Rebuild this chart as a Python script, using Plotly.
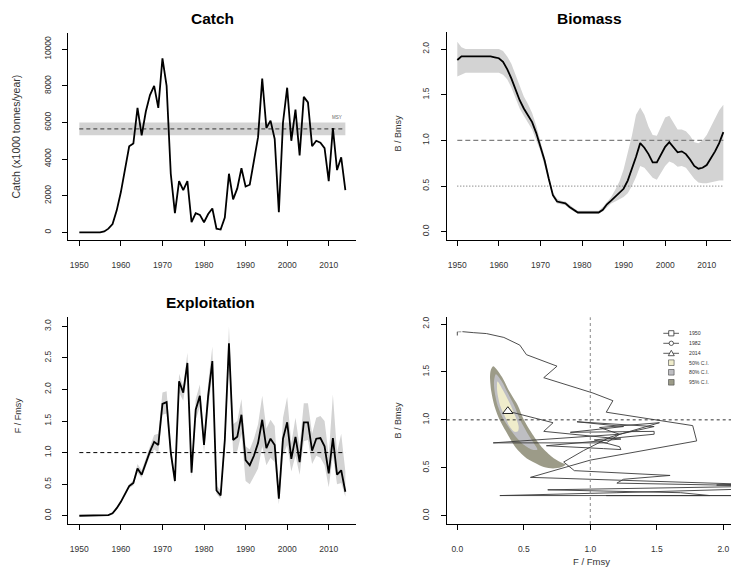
import plotly.graph_objects as go

W, H = 731, 568
FONT = "Liberation Sans, Arial, sans-serif"

years = list(range(1950, 2015))

catch = [0, 0, 0, 0, 0, 0, 50, 200, 450, 1200,
         2200, 3500, 4700, 4850, 6800, 5300, 6600, 7500, 8000, 6800,
         9500, 8000, 3200, 1050, 2800, 2300, 2800, 550, 1050, 950,
         550, 1000, 1300, 200, 150, 800, 3200, 1800, 2400, 3500,
         2500, 2600, 3800, 5200, 8400, 5700, 6100, 5100, 1100, 6000,
         7900, 5000, 6700, 4200, 7400, 7100, 4700, 5000, 4900, 4600,
         2800, 5700, 3400, 4100, 2300]
msy_years = [1950, 2014]
msy = [5650, 5650]
msy_lo = [5300, 5300]
msy_hi = [6000, 6000]

bbmsy = [1.88, 1.92, 1.92, 1.92, 1.92, 1.92, 1.92, 1.92, 1.92, 1.91,
         1.90, 1.86, 1.78, 1.68, 1.56, 1.44, 1.35, 1.28, 1.20, 1.08,
         0.94, 0.78, 0.58, 0.40, 0.33, 0.32, 0.31, 0.27, 0.24, 0.21,
         0.21, 0.21, 0.21, 0.21, 0.21, 0.24, 0.30, 0.34, 0.38, 0.42,
         0.47, 0.56, 0.68, 0.82, 0.97, 0.92, 0.85, 0.76, 0.76, 0.85,
         0.93, 0.98, 0.93, 0.87, 0.88, 0.85, 0.79, 0.72, 0.69, 0.70,
         0.73, 0.80, 0.88, 0.97, 1.09]
bbmsy_hi = [2.08, 2.02, 2.00, 2.00, 2.00, 2.00, 2.00, 2.00, 2.00, 2.00,
            2.00, 1.98, 1.92, 1.84, 1.72, 1.60, 1.48, 1.40, 1.30, 1.16,
            1.00, 0.82, 0.62, 0.43, 0.36, 0.34, 0.33, 0.29, 0.26, 0.23,
            0.23, 0.23, 0.23, 0.23, 0.23, 0.27, 0.33, 0.38, 0.46, 0.55,
            0.68, 0.85, 1.05, 1.28, 1.36, 1.28, 1.15, 1.06, 1.05, 1.15,
            1.25, 1.27, 1.20, 1.12, 1.12, 1.10, 1.05, 0.98, 0.97, 1.00,
            1.06, 1.15, 1.25, 1.33, 1.39]
bbmsy_lo = [1.70, 1.72, 1.74, 1.74, 1.74, 1.74, 1.74, 1.74, 1.74, 1.74,
            1.74, 1.72, 1.67, 1.58, 1.46, 1.35, 1.27, 1.20, 1.12, 1.00,
            0.88, 0.72, 0.54, 0.38, 0.31, 0.30, 0.29, 0.25, 0.22, 0.20,
            0.20, 0.20, 0.20, 0.20, 0.20, 0.22, 0.27, 0.31, 0.33, 0.36,
            0.38, 0.42, 0.50, 0.60, 0.72, 0.70, 0.65, 0.59, 0.57, 0.64,
            0.72, 0.77, 0.75, 0.71, 0.72, 0.70, 0.64, 0.58, 0.54, 0.53,
            0.53, 0.54, 0.55, 0.56, 0.56]

ffmsy = [0, 0, 0, 0, 0, 0, 0, 0.01, 0.04, 0.12,
         0.22, 0.35, 0.47, 0.52, 0.75, 0.65, 0.85, 1.02, 1.17, 1.12,
         1.77, 1.80, 1.00, 0.55, 2.13, 1.95, 2.42, 0.68, 1.68, 1.90,
         1.12, 1.90, 2.45, 0.40, 0.32, 1.20, 2.73, 1.20, 1.25, 1.60,
         0.88, 0.80, 0.95, 1.15, 1.52, 1.07, 1.22, 1.12, 0.27, 1.22,
         1.48, 0.90, 1.25, 0.85, 1.48, 1.48, 1.03, 1.22, 1.23, 1.10,
         0.67, 1.23, 0.65, 0.72, 0.38]
ffmsy_hi = [0.01, 0.01, 0.01, 0.01, 0.01, 0.01, 0.01, 0.02, 0.06, 0.14,
            0.25, 0.38, 0.50, 0.56, 0.82, 0.72, 0.92, 1.10, 1.28, 1.30,
            1.95, 1.97, 1.10, 0.62, 2.25, 2.05, 2.58, 0.78, 1.85, 2.08,
            1.25, 2.10, 2.68, 0.48, 0.40, 1.35, 3.00, 1.45, 1.50, 1.85,
            1.10, 1.05, 1.22, 1.45, 1.90, 1.38, 1.52, 1.42, 0.40, 1.55,
            1.88, 1.15, 1.55, 1.10, 1.78, 1.78, 1.30, 1.55, 1.58, 1.50,
            0.95, 1.92, 1.00, 1.30, 0.70]
ffmsy_lo = [0, 0, 0, 0, 0, 0, 0, 0.005, 0.03, 0.10,
            0.20, 0.32, 0.44, 0.48, 0.68, 0.60, 0.78, 0.95, 1.05, 1.00,
            1.60, 1.62, 0.90, 0.50, 1.95, 1.82, 2.25, 0.60, 1.52, 1.72,
            1.00, 1.70, 2.22, 0.35, 0.27, 1.05, 2.45, 1.00, 1.02, 1.30,
            0.55, 0.50, 0.62, 0.75, 1.10, 0.80, 0.92, 0.85, 0.18, 0.95,
            1.12, 0.70, 0.95, 0.65, 1.18, 1.20, 0.82, 0.95, 0.92, 0.80,
            0.45, 0.95, 0.50, 0.52, 0.30]

# final-year confidence regions (F/Fmsy, B/Bmsy)
ci95_f = [0.270, 0.335, 0.390, 0.455, 0.500, 0.565, 0.645, 0.725, 0.790, 0.815,
          0.780, 0.720, 0.650, 0.585, 0.520, 0.445, 0.378, 0.318, 0.278, 0.255,
          0.246, 0.252, 0.270]
ci95_b = [1.560, 1.450, 1.300, 1.150, 1.000, 0.850, 0.700, 0.600, 0.550, 0.535,
          0.505, 0.493, 0.508, 0.550, 0.600, 0.700, 0.850, 1.000, 1.150, 1.300,
          1.450, 1.520, 1.560]
ci80_f = [0.290, 0.335, 0.372, 0.428, 0.472, 0.532, 0.578, 0.602, 0.560, 0.490,
          0.425, 0.350, 0.303, 0.280, 0.276, 0.290]
ci80_b = [1.475, 1.400, 1.300, 1.150, 1.000, 0.850, 0.750, 0.688, 0.690, 0.750,
          0.850, 1.000, 1.150, 1.300, 1.400, 1.475]
ci50_f = [0.302, 0.347, 0.402, 0.447, 0.462, 0.455, 0.430, 0.385, 0.370, 0.322, 0.300, 0.302]
ci50_b = [1.400, 1.300, 1.150, 1.000, 0.920, 0.880, 0.875, 0.950, 1.000, 1.150, 1.300, 1.400]

legend_labels = ["1950", "1982", "2014", "50% C.I.", "80% C.I.", "95% C.I."]
ci_colors = ["#EFECCB", "#BEBEC2", "#9C9B88"]
band = "#D3D3D3"

yr_ticks = [1950, 1960, 1970, 1980, 1990, 2000, 2010]
catch_ticks = [0, 2000, 4000, 6000, 8000, 10000]
ratio_ticks = [0, 0.5, 1.0, 1.5, 2.0]
f_ticks = [0, 0.5, 1.0, 1.5, 2.0, 2.5, 3.0]

# panel frames in pixels: (left, right, top, bottom) and axis ranges
frames = {
    "1": (68.3, 356.0, 33.0, 240.0),
    "2": (446.7, 731.0, 32.3, 240.0),
    "3": (68.3, 356.0, 317.3, 524.0),
    "4": (446.7, 731.0, 317.3, 524.0),
}
ranges = {
    "1": ([1947.35, 2016.56], [-421, 10891]),
    "2": ([1947.45, 2015.84], [-0.091, 2.184]),
    "3": ([1947.35, 2016.56], [-0.131, 3.143]),
    "4": ([-0.0797, 2.058], [-0.0866, 2.07]),
}


def px(x):
    return x / W


def py(y):
    return 1 - y / H


tickfont = dict(family=FONT, size=8.5, color="#333333")


def xax(key, tv, fmt, anchor):
    l, r, t, b = frames[key]
    return dict(domain=[px(l), min(px(r), 1.0)], range=ranges[key][0], tickmode="array",
                tickvals=tv, tickformat=fmt, anchor=anchor, showgrid=False, zeroline=False,
                showline=True, linecolor="#000000", linewidth=1, ticks="outside", ticklen=5,
                tickwidth=1, tickcolor="#000000", tickfont=tickfont, ticklabelstandoff=12)


def yax(key, tv, fmt, anchor):
    l, r, t, b = frames[key]
    return dict(domain=[py(b), py(t)], range=ranges[key][1], tickmode="array", tickvals=tv,
                tickformat=fmt, anchor=anchor, showgrid=False, zeroline=False, showline=True,
                linecolor="#000000", linewidth=1, ticks="outside", ticklen=5, tickwidth=1,
                tickcolor="#000000", tickfont=tickfont, tickangle=-90, ticklabelstandoff=8)


fig = go.Figure()

# ---- Catch ----
fig.add_trace(go.Scatter(x=msy_years, y=msy_hi, mode="lines", line=dict(width=0),
                         xaxis="x", yaxis="y", showlegend=False, hoverinfo="skip"))
fig.add_trace(go.Scatter(x=msy_years, y=msy_lo, mode="lines", line=dict(width=0),
                         fill="tonexty", fillcolor=band, xaxis="x", yaxis="y",
                         showlegend=False, hoverinfo="skip"))
fig.add_trace(go.Scatter(x=msy_years, y=msy, mode="lines",
                         line=dict(color="#555555", width=1.2, dash="4px,3px"),
                         xaxis="x", yaxis="y", showlegend=False))
fig.add_trace(go.Scatter(x=years, y=catch, mode="lines", line=dict(color="black", width=1.8),
                         xaxis="x", yaxis="y", showlegend=False))

# ---- Biomass ----
fig.add_trace(go.Scatter(x=years, y=bbmsy_hi, mode="lines", line=dict(width=0),
                         xaxis="x2", yaxis="y2", showlegend=False, hoverinfo="skip"))
fig.add_trace(go.Scatter(x=years, y=bbmsy_lo, mode="lines", line=dict(width=0),
                         fill="tonexty", fillcolor=band, xaxis="x2", yaxis="y2",
                         showlegend=False, hoverinfo="skip"))
fig.add_trace(go.Scatter(x=msy_years, y=[1, 1], mode="lines",
                         line=dict(color="#808080", width=1.4, dash="5px,3px"),
                         xaxis="x2", yaxis="y2", showlegend=False))
fig.add_trace(go.Scatter(x=msy_years, y=[0.5, 0.5], mode="lines",
                         line=dict(color="#808080", width=1.2, dash="1px,2px"),
                         xaxis="x2", yaxis="y2", showlegend=False))
fig.add_trace(go.Scatter(x=years, y=bbmsy, mode="lines", line=dict(color="black", width=1.8),
                         xaxis="x2", yaxis="y2", showlegend=False))

# ---- Exploitation ----
fig.add_trace(go.Scatter(x=years, y=ffmsy_hi, mode="lines", line=dict(width=0),
                         xaxis="x3", yaxis="y3", showlegend=False, hoverinfo="skip"))
fig.add_trace(go.Scatter(x=years, y=ffmsy_lo, mode="lines", line=dict(width=0),
                         fill="tonexty", fillcolor=band, xaxis="x3", yaxis="y3",
                         showlegend=False, hoverinfo="skip"))
fig.add_trace(go.Scatter(x=msy_years, y=[1, 1], mode="lines",
                         line=dict(color="black", width=1, dash="4px,3px"),
                         xaxis="x3", yaxis="y3", showlegend=False))
fig.add_trace(go.Scatter(x=years, y=ffmsy, mode="lines", line=dict(color="black", width=1.8),
                         xaxis="x3", yaxis="y3", showlegend=False))

# ---- Kobe ----
for fx, by, col in [(ci95_f, ci95_b, ci_colors[2]), (ci80_f, ci80_b, ci_colors[1]),
                    (ci50_f, ci50_b, ci_colors[0])]:
    fig.add_trace(go.Scatter(x=fx, y=by, mode="lines", fill="toself", fillcolor=col,
                             line=dict(width=0, shape="spline", smoothing=0.8),
                             xaxis="x4", yaxis="y4", showlegend=False, hoverinfo="skip"))
fig.add_trace(go.Scatter(x=ffmsy, y=bbmsy, mode="lines", line=dict(color="#3a3a3a", width=0.9),
                         xaxis="x4", yaxis="y4", showlegend=False))
marker_years = [1950, 1982, 2014]
marker_syms = ["square-open", "circle-open", "triangle-up"]
for yr, sym in zip(marker_years, marker_syms):
    i = years.index(yr)
    fig.add_trace(go.Scatter(x=[ffmsy[i]], y=[bbmsy[i]], mode="markers",
                             marker=dict(symbol=sym, size=9, color="white",
                                         line=dict(color="#222222", width=1)),
                             xaxis="x4", yaxis="y4", showlegend=False))

shapes = [
    dict(type="line", xref="x4", yref="y4 domain", x0=1, x1=1, y0=0, y1=1,
         line=dict(color="#888888", width=1, dash="dot")),
    dict(type="line", xref="x4 domain", yref="y4", x0=0, x1=1, y0=1, y1=1,
         line=dict(color="#333333", width=1, dash="dot")),
]

# ---- Legend of Kobe panel ----
leg_rows = [333.3, 343.3, 353.3, 362.7, 372.3, 382.3]
lx0, lx1, lc, ltx = 663.3, 679.0, 671.3, 686.5
annotations = []
for k, lab in enumerate(legend_labels):
    yy = leg_rows[k]
    annotations.append(dict(text=lab, x=px(ltx), y=py(yy), xref="paper", yref="paper",
                            xanchor="left", yanchor="middle", showarrow=False,
                            font=dict(family=FONT, size=5.2, color="#333333")))
    if k < 3:
        shapes.append(dict(type="line", xref="paper", yref="paper", x0=px(lx0), x1=px(lx1),
                           y0=py(yy), y1=py(yy), line=dict(color="#333333", width=0.8)))
        s = 2.6
        if k == 0:
            shapes.append(dict(type="rect", xref="paper", yref="paper", x0=px(lc - s), x1=px(lc + s),
                               y0=py(yy + s), y1=py(yy - s), fillcolor="white",
                               line=dict(color="#333333", width=0.8)))
        elif k == 1:
            shapes.append(dict(type="circle", xref="paper", yref="paper", x0=px(lc - 2.2), x1=px(lc + 2.2),
                               y0=py(yy + 2.2), y1=py(yy - 2.2), fillcolor="white",
                               line=dict(color="#333333", width=0.8)))
        else:
            path = "M {} {} L {} {} L {} {} Z".format(px(lc - 3), py(yy + 2.4), px(lc + 3), py(yy + 2.4),
                                                     px(lc), py(yy - 3))
            shapes.append(dict(type="path", xref="paper", yref="paper", path=path, fillcolor="white",
                               line=dict(color="#333333", width=0.8)))
    else:
        s = 2.8
        shapes.append(dict(type="rect", xref="paper", yref="paper", x0=px(lc - s), x1=px(lc + s),
                           y0=py(yy + s), y1=py(yy - s), fillcolor=ci_colors[k - 3],
                           line=dict(color="#444444", width=0.6)))

# Titles
for txt, cx, cy in [("Catch", 212, 18.5), ("Biomass", 589.5, 18.5), ("Exploitation", 210, 302.5)]:
    annotations.append(dict(text="<b>%s</b>" % txt, x=px(cx), y=py(cy), xref="paper", yref="paper",
                            xanchor="center", yanchor="middle", showarrow=False,
                            font=dict(family=FONT, size=15.5, color="black")))

# Axis titles
for txt, cx, cy, sz in [("Catch (x1000 tonnes/year)", 15, 136.5, 10.5),
                        ("B / Bmsy", 397.5, 133, 9),
                        ("F / Fmsy", 18.3, 416, 9),
                        ("B / Bmsy", 397.5, 420, 9)]:
    annotations.append(dict(text=txt, x=px(cx), y=py(cy), xref="paper", yref="paper",
                            xanchor="center", yanchor="middle", showarrow=False, textangle=-90,
                            font=dict(family=FONT, size=sz, color="#333333")))
annotations.append(dict(text="F / Fmsy", x=px(591), y=py(561.5), xref="paper", yref="paper",
                        xanchor="center", yanchor="middle", showarrow=False,
                        font=dict(family=FONT, size=9.5, color="#333333")))
annotations.append(dict(text="MSY", x=2012, y=6000, xref="x", yref="y", xanchor="center",
                        yanchor="bottom", showarrow=False,
                        font=dict(family=FONT, size=4.5, color="#666666")))

fig.update_layout(
    width=W, height=H, margin=dict(l=0, r=0, t=0, b=0),
    paper_bgcolor="white", plot_bgcolor="white", showlegend=False,
    xaxis=xax("1", yr_ticks, "d", "y"),
    yaxis=yax("1", catch_ticks, "d", "x"),
    xaxis2=xax("2", yr_ticks, "d", "y2"),
    yaxis2=yax("2", ratio_ticks, ".1f", "x2"),
    xaxis3=xax("3", yr_ticks, "d", "y3"),
    yaxis3=yax("3", f_ticks, ".1f", "x3"),
    xaxis4=xax("4", ratio_ticks, ".1f", "y4"),
    yaxis4=yax("4", ratio_ticks, ".1f", "x4"),
    shapes=shapes, annotations=annotations,
)

fig.write_html("out.html", config={"displayModeBar": False},
               post_script="document.body.style.margin='0';document.body.style.padding='0';"
                           "document.body.style.overflow='hidden';")
